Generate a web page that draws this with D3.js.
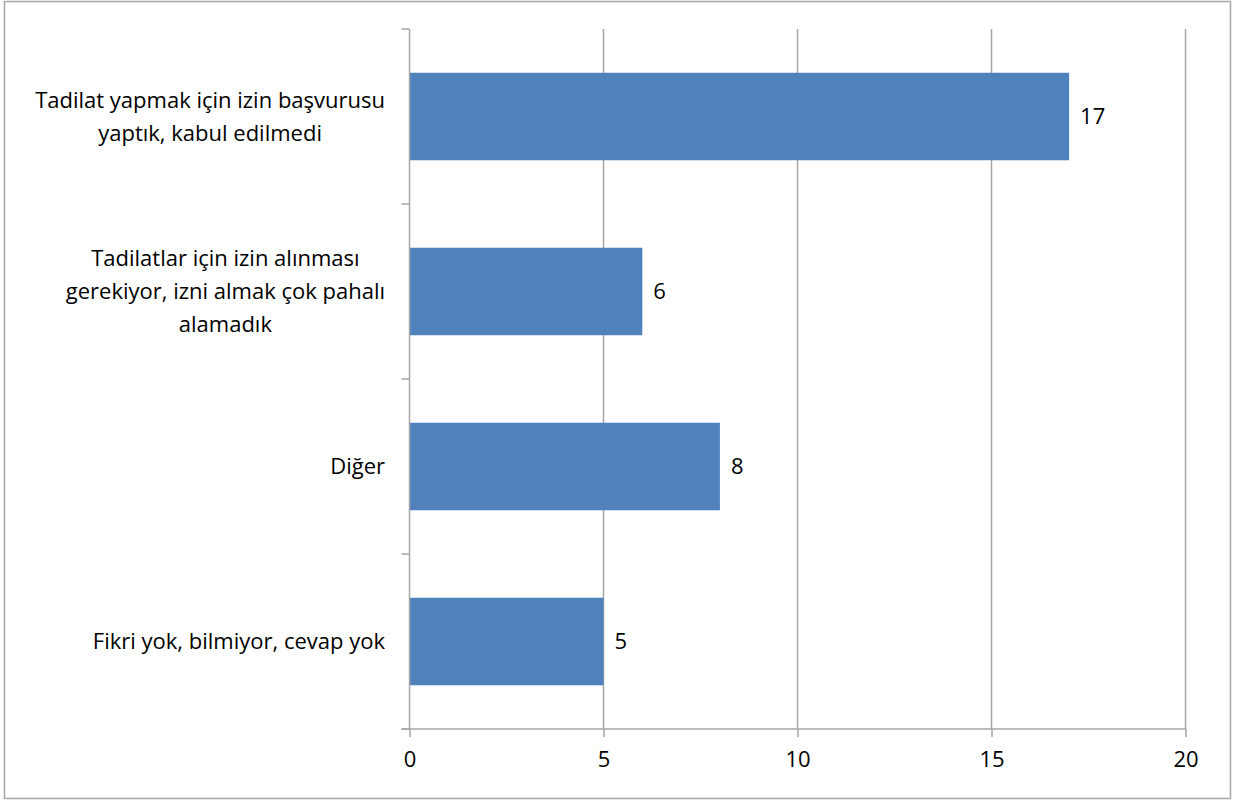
<!DOCTYPE html>
<html><head><meta charset="utf-8">
<script src="https://cdn.jsdelivr.net/npm/d3@7"></script>
<style>body{margin:0;background:#fff}svg{display:block}text{font-family:"Open Sans","Noto Sans",sans-serif;fill:#000}</style>
</head><body>
<svg id="c" width="1240" height="800"></svg>
<script>
const categories = [
  ["Tadilat yapmak için izin başvurusu", "yaptık, kabul edilmedi"],
  ["Tadilatlar için izin alınması", "gerekiyor, izni almak çok pahalı", "alamadık"],
  ["Diğer"],
  ["Fikri yok, bilmiyor, cevap yok"]
];
const values = [17, 6, 8, 5];
const xTicks = [0, 5, 10, 15, 20];

const svg = d3.select("#c");
const m = {left: 409.5, right: 1185.5, top: 29, bottom: 729};
const FF = "'Open Sans', 'Noto Sans', sans-serif";

// pick font size so the widest line matches the reference width (~362px)
const probe = svg.append("text").attr("font-size", 20).attr("font-family", FF).text(categories[0][0]);
const fs = Math.min(22, 20 * 362 / probe.node().getComputedTextLength());
probe.remove();

svg.append("rect").attr("x", 4.5).attr("y", 1.5).attr("width", 1226).attr("height", 797)
  .attr("fill", "#fff").attr("stroke", "#a6a6a6").attr("stroke-width", 1.5);

const x = d3.scaleLinear().domain([0, 20]).range([m.left, m.right]);
const idx = d3.range(categories.length);
const y = d3.scaleBand().domain(idx).range([m.top, m.bottom]).paddingInner(0.5).paddingOuter(0.25);

svg.append("g").selectAll("line").data(xTicks.slice(1)).join("line")
  .attr("x1", d => x(d)).attr("x2", d => x(d)).attr("y1", m.top).attr("y2", m.bottom)
  .attr("stroke", "#a6a6a6").attr("stroke-width", 1.5);

svg.append("g").selectAll("rect").data(values).join("rect")
  .attr("x", x(0)).attr("y", (d, i) => y(i)).attr("width", d => x(d) - x(0)).attr("height", y.bandwidth())
  .attr("fill", "#4f81bd");

const xa = svg.append("g").attr("transform", `translate(0,${m.bottom})`)
  .call(d3.axisBottom(x).tickValues(xTicks).tickSize(8).tickSizeOuter(0).tickPadding(14));
xa.select(".domain").attr("stroke", "#a6a6a6").attr("stroke-width", 1.5).attr("d", `M${m.left - 8},0H${m.right}`);
xa.selectAll(".tick line").attr("stroke", "#a6a6a6").attr("stroke-width", 1.5);
xa.selectAll(".tick text").attr("font-size", fs).attr("font-family", FF).attr("fill", "#000");

const yBounds = idx.map(i => y(i) - y.step() * y.paddingInner() / 2).concat([m.bottom]);
svg.append("line").attr("x1", m.left).attr("x2", m.left).attr("y1", m.top).attr("y2", m.bottom)
  .attr("stroke", "#a6a6a6").attr("stroke-width", 1.5);
svg.append("g").selectAll("line").data(yBounds).join("line")
  .attr("x1", m.left - 8).attr("x2", m.left).attr("y1", d => d).attr("y2", d => d)
  .attr("stroke", "#a6a6a6").attr("stroke-width", 1.5);

const lh = 33;
const labelRight = 385;
categories.forEach((lines, i) => {
  const g = svg.append("g");
  const cy = y(i) + y.bandwidth() / 2;
  const t0 = (lines.length - 1) * lh / 2;
  const texts = lines.map((s, k) => g.append("text").attr("font-size", fs)
    .attr("y", cy - t0 + k * lh).attr("dy", "0.35em").attr("text-anchor", "middle").text(s));
  const maxW = d3.max(texts, t => t.node().getComputedTextLength());
  texts.forEach(t => t.attr("x", labelRight - maxW / 2));
});

svg.append("g").selectAll("text").data(values).join("text")
  .attr("x", d => x(d) + 11).attr("y", (d, i) => y(i) + y.bandwidth() / 2).attr("dy", "0.35em")
  .attr("font-size", fs).text(d => d);
</script>
</body></html>
